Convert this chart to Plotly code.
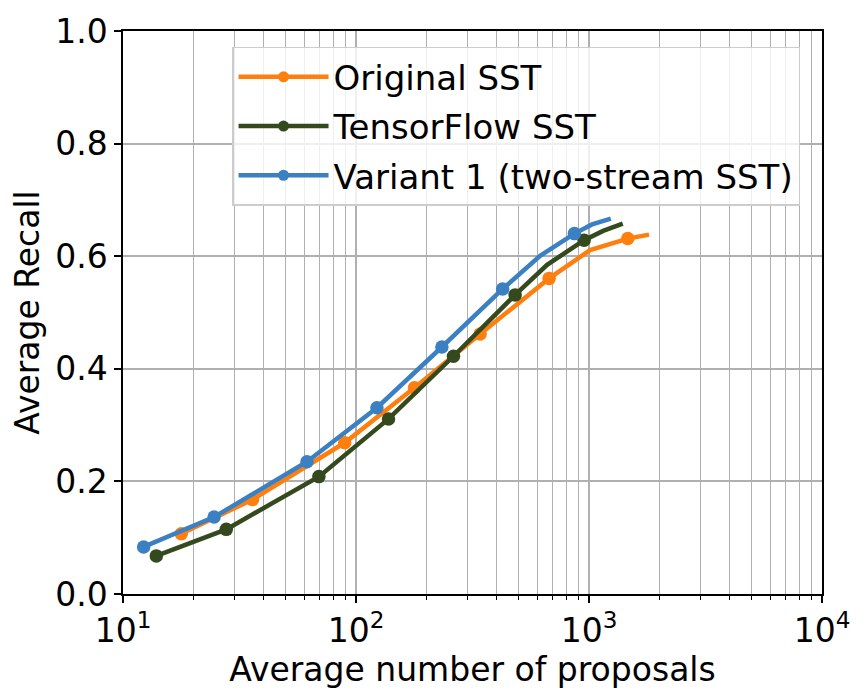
import plotly.graph_objects as go

series_names = ["Original SST", "TensorFlow SST", "Variant 1 (two-stream SST)"]
series_colors = ["#ff7f0e", "#34491d", "#3a80c2"]

orig_x = [17.79, 35.97, 89.4, 178.2, 341.0, 674.3, 1011, 1467, 1810]
orig_y = [0.1072, 0.1678, 0.2686, 0.3663, 0.4617, 0.5606, 0.6108, 0.6313, 0.6383]
orig_mark = [1, 1, 1, 1, 1, 1, 0, 1, 0]

tf_x = [13.9, 27.75, 69.3, 137.9, 262, 482, 661, 953, 1150, 1396]
tf_y = [0.0677, 0.1148, 0.2085, 0.3110, 0.4223, 0.5313, 0.5848, 0.6284, 0.6449, 0.6578]
tf_mark = [1, 1, 1, 1, 1, 1, 0, 1, 0, 0]

var_x = [12.26, 24.6, 61.6, 123.0, 233.7, 426, 617, 865.7, 1031, 1240]
var_y = [0.0836, 0.1366, 0.2350, 0.3309, 0.4387, 0.5419, 0.6007, 0.6401, 0.6564, 0.6666]
var_mark = [1, 1, 1, 1, 1, 1, 0, 1, 0, 0]

x_tickvals = [10, 100, 1000, 10000]
x_ticktext = ["10<sup>1</sup>", "10<sup>2</sup>", "10<sup>3</sup>", "10<sup>4</sup>"]
y_tickvals = [0.0, 0.2, 0.4, 0.6, 0.8, 1.0]

FONT = "DejaVu Sans"
FS = 33
GRID = "#b0b0b0"

fig = go.Figure()
all_series = [(orig_x, orig_y, orig_mark), (tf_x, tf_y, tf_mark), (var_x, var_y, var_mark)]
for (xs, ys, mk), name, col in zip(all_series, series_names, series_colors):
    fig.add_trace(go.Scatter(
        x=xs, y=ys, mode="lines", line=dict(color=col, width=4.5),
        showlegend=False, hoverinfo="skip"))
    fig.add_trace(go.Scatter(
        x=[x for x, m in zip(xs, mk) if m], y=[y for y, m in zip(ys, mk) if m],
        mode="markers", marker=dict(color=col, size=13.5), showlegend=False))

for name, col in zip(series_names, series_colors):
    fig.add_trace(go.Scatter(
        x=[None], y=[None], mode="lines+markers", name=name, legendgroup=name,
        line=dict(color=col, width=4.5), marker=dict(color=col, size=11)))

fig.update_layout(
    width=866, height=698, autosize=False,
    margin=dict(l=123, r=44, t=28, b=104),
    paper_bgcolor="white", plot_bgcolor="white",
    font=dict(family=FONT, size=FS, color="black"),
    showlegend=True,
    legend=dict(
        x=0.156, y=0.972, xanchor="left", yanchor="top",
        bgcolor="rgba(255,255,255,0.8)", bordercolor="#cccccc", borderwidth=1.5,
        font=dict(family=FONT, size=34), itemwidth=90, tracegroupgap=2,
    ),
    xaxis=dict(
        type="log", range=[1, 4],
        tickmode="array", tickvals=x_tickvals, ticktext=x_ticktext,
        ticks="outside", ticklen=7, tickwidth=1.5, tickcolor="black",
        showline=True, linecolor="black", linewidth=1.5, mirror=True,
        showgrid=True, gridcolor=GRID, gridwidth=1.5,
        minor=dict(dtick="D1", showgrid=True, gridcolor=GRID, gridwidth=1.3,
                   ticks="outside", ticklen=4, tickwidth=1.2, tickcolor="black"),
        title=dict(text="Average number of proposals", standoff=0,
                   font=dict(family=FONT, size=FS)),
        tickfont=dict(family=FONT, size=FS),
        zeroline=False,
    ),
    yaxis=dict(
        range=[0, 1], tickmode="array", tickvals=y_tickvals, tickformat=".1f",
        ticks="outside", ticklen=7, tickwidth=1.5, tickcolor="black",
        showline=True, linecolor="black", linewidth=1.5, mirror=True,
        showgrid=True, gridcolor=GRID, gridwidth=1.5,
        title=dict(text="Average Recall", standoff=6,
                   font=dict(family=FONT, size=FS)),
        tickfont=dict(family=FONT, size=FS),
        zeroline=False,
    ),
)

fig.write_html("out.html")
